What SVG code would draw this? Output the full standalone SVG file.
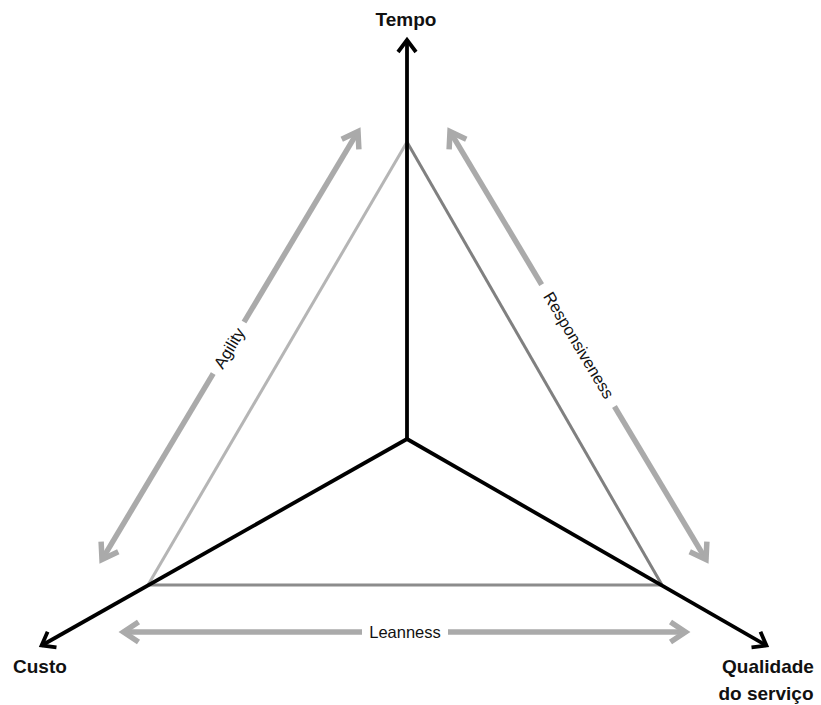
<svg xmlns="http://www.w3.org/2000/svg" width="821" height="705" viewBox="0 0 821 705">
  <style>
    .axis { stroke: #000; stroke-width: 3.8; fill: none; stroke-linecap: butt; }
    .edge { stroke-width: 3; fill: none; }
    .trade { stroke: #aaaaaa; stroke-width: 5.5; fill: none; }
    .pole { font-family: "Liberation Sans", Arial, sans-serif; font-weight: bold; font-size: 19px; fill: #111; }
    .tag { font-family: "Liberation Sans", Arial, sans-serif; font-size: 16.5px; fill: #111; }
    .gap { fill: #fff; }
  </style>
  <defs>
    <marker id="axisHead" markerUnits="userSpaceOnUse" orient="auto" overflow="visible" markerWidth="1" markerHeight="1" refX="0" refY="0">
      <path d="M-12,-9 L0,0 L-12,9" fill="none" stroke="#000" stroke-width="3.8" stroke-linejoin="miter"/>
    </marker>
    <marker id="tradeHead" markerUnits="userSpaceOnUse" orient="auto-start-reverse" overflow="visible" markerWidth="1" markerHeight="1" refX="0" refY="0">
      <path d="M-15,-10 L0,0 L-15,10" fill="none" stroke="#aaaaaa" stroke-width="5.5" stroke-linejoin="miter"/>
    </marker>
  </defs>

  <rect width="821" height="705" fill="#fff"/>

  <g id="connectors">
    <!-- performance triangle -->
    <line class="edge" x1="407" y1="142" x2="148" y2="585" stroke="#b5b5b5"/>
    <line class="edge" x1="407" y1="142" x2="662" y2="585" stroke="#808080"/>
    <line class="edge" x1="148" y1="585" x2="662" y2="585" stroke="#8c8c8c"/>

    <!-- three axes from the common origin -->
    <line class="axis" x1="407" y1="439" x2="407" y2="40" marker-end="url(#axisHead)"/>
    <line class="axis" x1="407" y1="439" x2="41.6" y2="645.5" marker-end="url(#axisHead)"/>
    <line class="axis" x1="407" y1="439" x2="766.4" y2="645.5" marker-end="url(#axisHead)"/>

    <!-- trade-off arrows -->
    <line id="agility-arrow" class="trade" x1="102" y1="559.6" x2="358" y2="131.4" marker-start="url(#tradeHead)" marker-end="url(#tradeHead)"/>
    <line id="responsiveness-arrow" class="trade" x1="450" y1="131.4" x2="706" y2="559.6" marker-start="url(#tradeHead)" marker-end="url(#tradeHead)"/>
    <line id="leanness-arrow" class="trade" x1="123.5" y1="632" x2="685.5" y2="632" marker-start="url(#tradeHead)" marker-end="url(#tradeHead)"/>
  </g>

  <g id="agility">
    <g transform="translate(229,348) rotate(-59.1)">
      <rect class="gap" x="-30" y="-7" width="60" height="14"/>
      <text class="tag" x="0" y="6" text-anchor="middle">Agility</text>
    </g>
  </g>

  <g id="responsiveness">
    <g transform="translate(579,345) rotate(59.1)">
      <rect class="gap" x="-71" y="-7" width="142" height="14"/>
      <text class="tag" x="0" y="6" text-anchor="middle" font-size="17">Responsiveness</text>
    </g>
  </g>

  <g id="leanness">
    <rect class="gap" x="362" y="624" width="86" height="16"/>
    <text class="tag" x="405" y="638" text-anchor="middle">Leanness</text>
  </g>

  <g id="tempo">
    <text class="pole" x="406" y="26" text-anchor="middle">Tempo</text>
  </g>

  <g id="custo">
    <text class="pole" x="13" y="673">Custo</text>
  </g>

  <g id="qualidade">
    <text class="pole" x="768" y="673" text-anchor="middle">Qualidade</text>
    <text class="pole" x="766" y="700" text-anchor="middle">do serviço</text>
  </g>
</svg>
